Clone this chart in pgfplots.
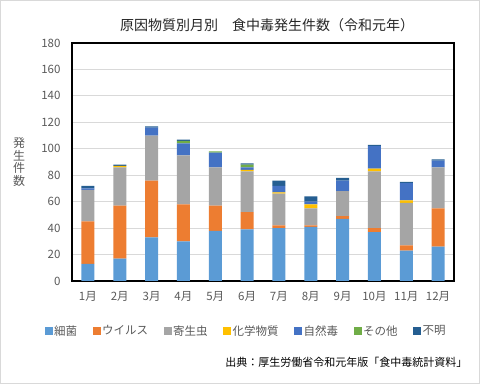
\documentclass[border=0pt]{standalone}
\usepackage{fontspec}
\setmainfont{Noto Sans CJK JP}
\usepackage{pgfplots}
\usepackage{pgfplotstable}
\pgfplotsset{compat=1.18}
\definecolor{cBac}{HTML}{5B9BD5}
\definecolor{cVir}{HTML}{ED7D31}
\definecolor{cPar}{HTML}{A5A5A5}
\definecolor{cChe}{HTML}{FFC000}
\definecolor{cNat}{HTML}{4472C4}
\definecolor{cOth}{HTML}{70AD47}
\definecolor{cUnk}{HTML}{255E91}
\definecolor{txtgray}{HTML}{595959}
\definecolor{gridgray}{HTML}{D9D9D9}
\pgfplotstableread{
m bac vir par che nat oth unk
1 13 32 24 0 1 0 2
2 17 40 29 1 0 0 1
3 33 43 34 0 6 0 1
4 30 28 37 0 9 2 1
5 38 19 29 0 11 1 0
6 39 13 31 1 2 2 1
7 40 2 24 1 5 0 4
8 41 1 13 3 2 0 4
9 47 2 19 0 8 0 2
10 37 3 43 2 17 0 1
11 23 4 32 2 13 0 1
12 26 29 31 0 5 0 1
}\data
\pgfplotsset{sqleg/.style={legend image code/.code={\fill[##1] (0bp,-4bp) rectangle (8bp,4bp);}}}
\begin{document}
\begin{tikzpicture}
\useasboundingbox (0,0) rectangle (480bp,384bp);
\draw[gridgray, line width=1bp] (0.5bp,0.5bp) rectangle (479.5bp,383.5bp);
\begin{axis}[
  at={(72bp,103bp)}, anchor=south west,
  scale only axis, width=382bp, height=238bp,
  ybar stacked, bar width=13bp,
  xmin=0.5, xmax=12.5, ymin=0, ymax=180,
  ytick={0,20,...,180},
  xtick={1,...,12},
  xticklabels={1月,2月,3月,4月,5月,6月,7月,8月,9月,10月,11月,12月},
  major tick length=0,
  ymajorgrids, major grid style={draw=gridgray, line width=1bp},
  axis line style={black, line width=1.2bp},
  /pgf/number format/assume math mode=true,
  tick label style={font=\fontsize{11.5bp}{13bp}\selectfont, text=txtgray},
  yticklabel style={xshift=-8bp},
  xticklabel style={yshift=-7bp},
  every axis plot post/.append style={sqleg},
  legend columns=7,
  legend style={draw=none, fill=none, at={(0.455,-0.21)}, anchor=center,
    font=\fontsize{11.5bp}{13bp}\selectfont, text=txtgray,
    /tikz/every even column/.append style={column sep=14bp},
    nodes={inner sep=1.5bp}},
]
\addplot[fill=cBac, draw=none] table[x=m,y=bac]{\data};
\addplot[fill=cVir, draw=none] table[x=m,y=vir]{\data};
\addplot[fill=cPar, draw=none] table[x=m,y=par]{\data};
\addplot[fill=cChe, draw=none] table[x=m,y=che]{\data};
\addplot[fill=cNat, draw=none] table[x=m,y=nat]{\data};
\addplot[fill=cOth, draw=none] table[x=m,y=oth]{\data};
\addplot[fill=cUnk, draw=none] table[x=m,y=unk]{\data};
\legend{細菌,ウイルス,寄生虫,化学物質,自然毒,その他,不明}
\end{axis}
\node[font=\fontsize{14bp}{16bp}\selectfont, text={black!85}] at (267bp,359bp) {原因物質別月別　食中毒発生件数（令和元年）};
\node[font=\fontsize{12bp}{12.4bp}\selectfont, text=txtgray, align=center] at (19bp,222bp) {発\\生\\件\\数};
\node[font=\fontsize{11bp}{13bp}\selectfont, text=black, anchor=east] at (471bp,22bp) {出典：厚生労働省令和元年版「食中毒統計資料」};
\end{tikzpicture}
\end{document}
